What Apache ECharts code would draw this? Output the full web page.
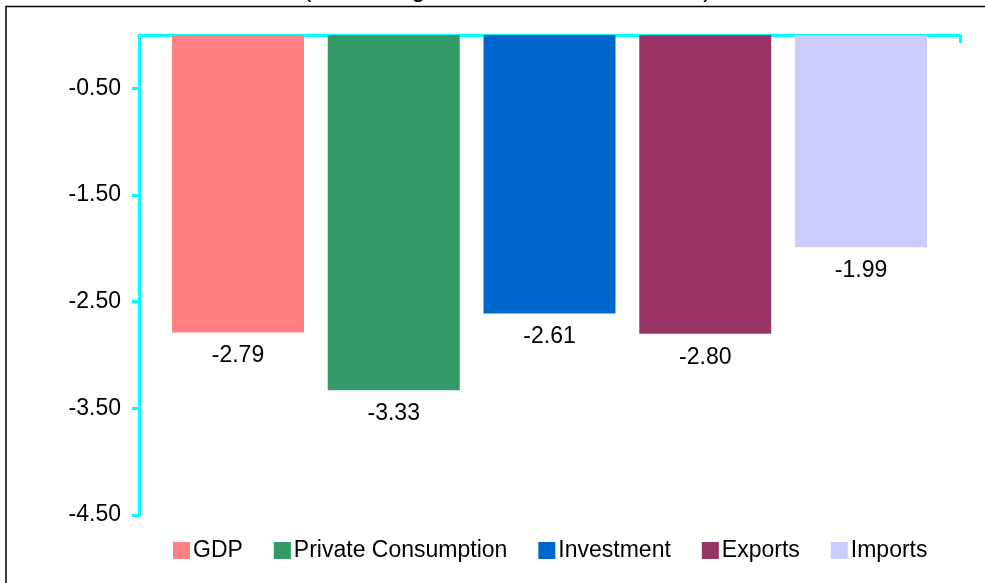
<!DOCTYPE html>
<html>
<head>
<meta charset="utf-8">
<script src="https://cdn.jsdelivr.net/npm/echarts@6/dist/echarts.min.js"></script>
<style>html,body{margin:0;padding:0;background:#fff}#c{width:985px;height:583px}</style>
</head>
<body>
<div id="c"></div>
<script>
var titleText = '(Percentage deviation from baseline)';
var seriesNames = ['GDP', 'Private Consumption', 'Investment', 'Exports', 'Imports'];
var seriesValues = [-2.79, -3.33, -2.61, -2.80, -1.99];
var seriesColors = ['#FF8080', '#339966', '#0066CC', '#993366', '#CCCCFF'];
var yTicks = [-4.5, -3.5, -2.5, -1.5, -0.5];
var categories = [''];

var FONT = "'Liberation Sans', Arial, Helvetica, sans-serif";
var chart = echarts.init(document.getElementById('c'), null, {renderer: 'canvas'});

var series = seriesNames.map(function (name, i) {
  return {
    name: name,
    type: 'bar',
    data: [seriesValues[i]],
    barWidth: 132,
    barGap: '18%',
    itemStyle: {color: seriesColors[i]},
    label: {
      show: true,
      position: 'bottom',
      distance: 12,
      fontSize: 23,
      fontFamily: FONT,
      color: '#000',
      formatter: function (p) { return p.value.toFixed(2); }
    }
  };
});

chart.setOption({
  animation: false,
  backgroundColor: '#fff',
  title: {
    text: titleText,
    left: 298,
    top: -27,
    textStyle: {fontSize: 25, fontWeight: 'normal', fontFamily: FONT, color: '#000'}
  },
  graphic: [{
    type: 'rect',
    silent: true,
    z: -1,
    shape: {x: 6, y: 6.5, width: 1200, height: 800},
    style: {fill: null, stroke: '#000', lineWidth: 1.5}
  }],
  legend: {
    data: seriesNames,
    left: 168,
    top: 534,
    itemWidth: 17,
    itemHeight: 17,
    itemGap: 31,
    icon: 'rect',
    textStyle: {fontSize: 23, fontFamily: FONT, color: '#000', padding: [0, 0, 0, -2]}
  },
  grid: {left: 139, right: 25, top: 35, bottom: 68, containLabel: false},
  xAxis: {
    type: 'category',
    data: categories,
    position: 'top',
    axisLine: {show: true, lineStyle: {color: '#00FFFF', width: 3}},
    axisTick: {show: true, inside: true, length: 8, lineStyle: {color: '#00FFFF', width: 3}},
    axisLabel: {show: false},
    splitLine: {show: false}
  },
  yAxis: {
    type: 'value',
    min: -4.5,
    max: 0,
    axisLine: {show: true, lineStyle: {color: '#00FFFF', width: 3}},
    axisTick: {show: true, length: 7, customValues: yTicks, lineStyle: {color: '#00FFFF', width: 3}},
    axisLabel: {
      customValues: yTicks,
      margin: 18,
      fontSize: 23,
      fontFamily: FONT,
      color: '#000',
      formatter: function (v) { return v.toFixed(2); }
    },
    splitLine: {show: false}
  },
  series: series
});
</script>
</body>
</html>
